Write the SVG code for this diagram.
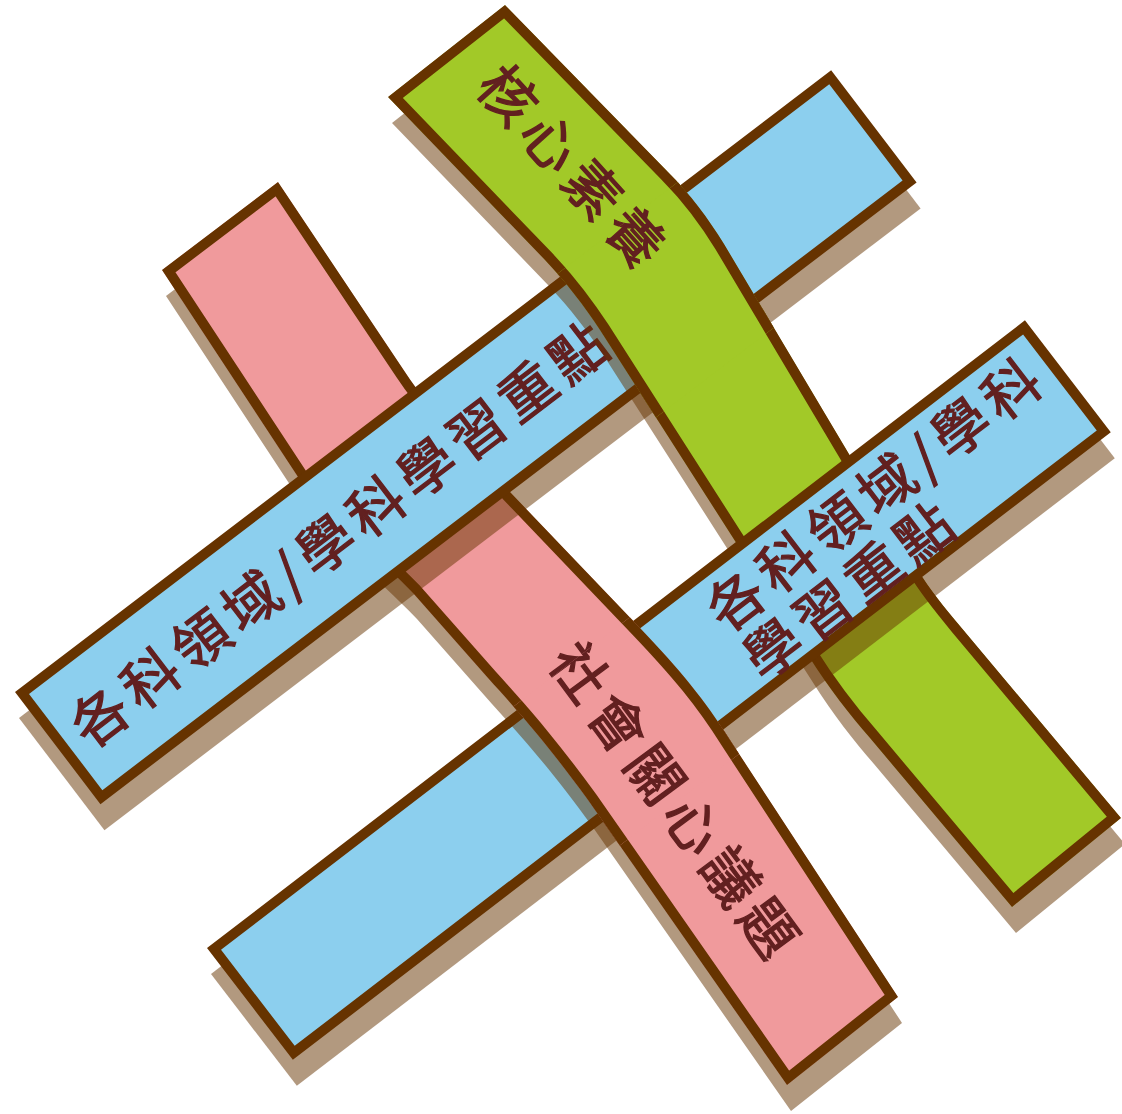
<svg xmlns="http://www.w3.org/2000/svg" width="1122" height="1114" viewBox="0 0 1122 1114">
<style>
.blue{fill:#8ccfee;stroke:#663300;stroke-width:10;stroke-linejoin:miter}
.green{fill:#a2c928;stroke:#663300;stroke-width:20;stroke-linejoin:miter}
.pink{fill:#f09a9c;stroke:#663300;stroke-width:20;stroke-linejoin:miter}
.shadow{fill:#663300;fill-opacity:0.5}
.lbl{font-family:"Noto Sans CJK TC","Noto Sans CJK SC",sans-serif;font-size:56px;fill:#622020;stroke:#622020;stroke-width:1.3px;letter-spacing:7.5px}
</style>
<defs>
<path id="greenP" d="M388,97 L505,5 L668,172 C690,194 708,218 724,244 L918,570 C930,590 945,608 960,626 L1121,818 L1012,907 L870,738 C850,715 830,690 808,655 L600,330 C585,307 566,282 545,260 Z"/>
<path id="pinkP" d="M162,270 L278,182 L405,372 C430,410 470,452 510,492 L640,628 C680,670 705,700 730,740 L898,997 L787,1085 L588,800 C553,752 528,722 488,678 L413,593 C370,548 325,515 300,480 Z"/>
<clipPath id="greenClip"><use href="#greenP"/></clipPath>
<clipPath id="pinkClip"><use href="#pinkP"/></clipPath>
<clipPath id="r1"><rect transform="translate(15,692) rotate(-37.3)" x="600" y="-4" width="440" height="174"/></clipPath>
<clipPath id="r1s"><rect transform="translate(15,692) rotate(-37.3)" x="600" y="0" width="426" height="141"/></clipPath>
<clipPath id="r4"><rect transform="translate(207,948) rotate(-37.5)" x="300" y="-5" width="300" height="175"/></clipPath>
<clipPath id="r4s"><rect transform="translate(207,948) rotate(-37.5)" x="300" y="0" width="300" height="141"/></clipPath>
<g id="greenShadow"><use href="#greenP" class="shadow" transform="translate(4,26)"/></g>
<g id="pinkShadow"><use href="#pinkP" class="shadow" transform="translate(4,26)"/></g>
<g id="greenStrip">
<use href="#greenP" class="green" clip-path="url(#greenClip)"/>
<text class="lbl" transform="translate(508,95) rotate(48)" x="-28" y="21">核心素養</text>
</g>
<g id="pinkStrip">
<use href="#pinkP" class="pink" clip-path="url(#pinkClip)"/>
<text class="lbl" transform="translate(580,672) rotate(53.5)" x="-28" y="21">社會關心議題</text>
</g>
<g id="blue1Shadow" transform="translate(19,718) rotate(-37.3)"><rect width="1026" height="141" class="shadow"/></g>
<g id="blue2Shadow" transform="translate(211,974) rotate(-37.5)"><rect width="1031" height="141" class="shadow"/></g>
<g id="blue1Strip" transform="translate(15,692) rotate(-37.3)">
<rect x="5" y="5" width="1016" height="131" class="blue"/>
<text class="lbl" x="24.5" y="92">各科領域/學科學習重點</text>
</g>
<g id="blue2Strip" transform="translate(207,948) rotate(-37.5)">
<rect x="5" y="5" width="1021" height="131" class="blue"/>
<text class="lbl" x="603" y="67">各科領域/學科</text>
<text class="lbl" x="603" y="128">學習重點</text>
</g>
</defs>
<rect width="1122" height="1114" fill="#ffffff"/>
<g id="under-shadows">
<use href="#pinkShadow"/>
<use href="#greenShadow"/>
</g>
<g id="node-pink"><use href="#pinkStrip"/></g>
<g id="node-green"><use href="#greenStrip"/></g>
<g id="blue-shadows">
<use href="#blue1Shadow"/>
<use href="#blue2Shadow"/>
</g>
<g id="node-blue1"><use href="#blue1Strip"/></g>
<g id="node-blue2"><use href="#blue2Strip"/></g>
<g id="weave-green-over-blue1">
<g clip-path="url(#r1s)"><use href="#greenShadow"/></g>
<g clip-path="url(#r1)"><use href="#greenStrip"/></g>
</g>
<g id="weave-pink-over-blue2">
<g clip-path="url(#r4s)"><use href="#pinkShadow"/></g>
<g clip-path="url(#r4)"><use href="#pinkStrip"/></g>
</g>
<g id="connectors"/>
</svg>
